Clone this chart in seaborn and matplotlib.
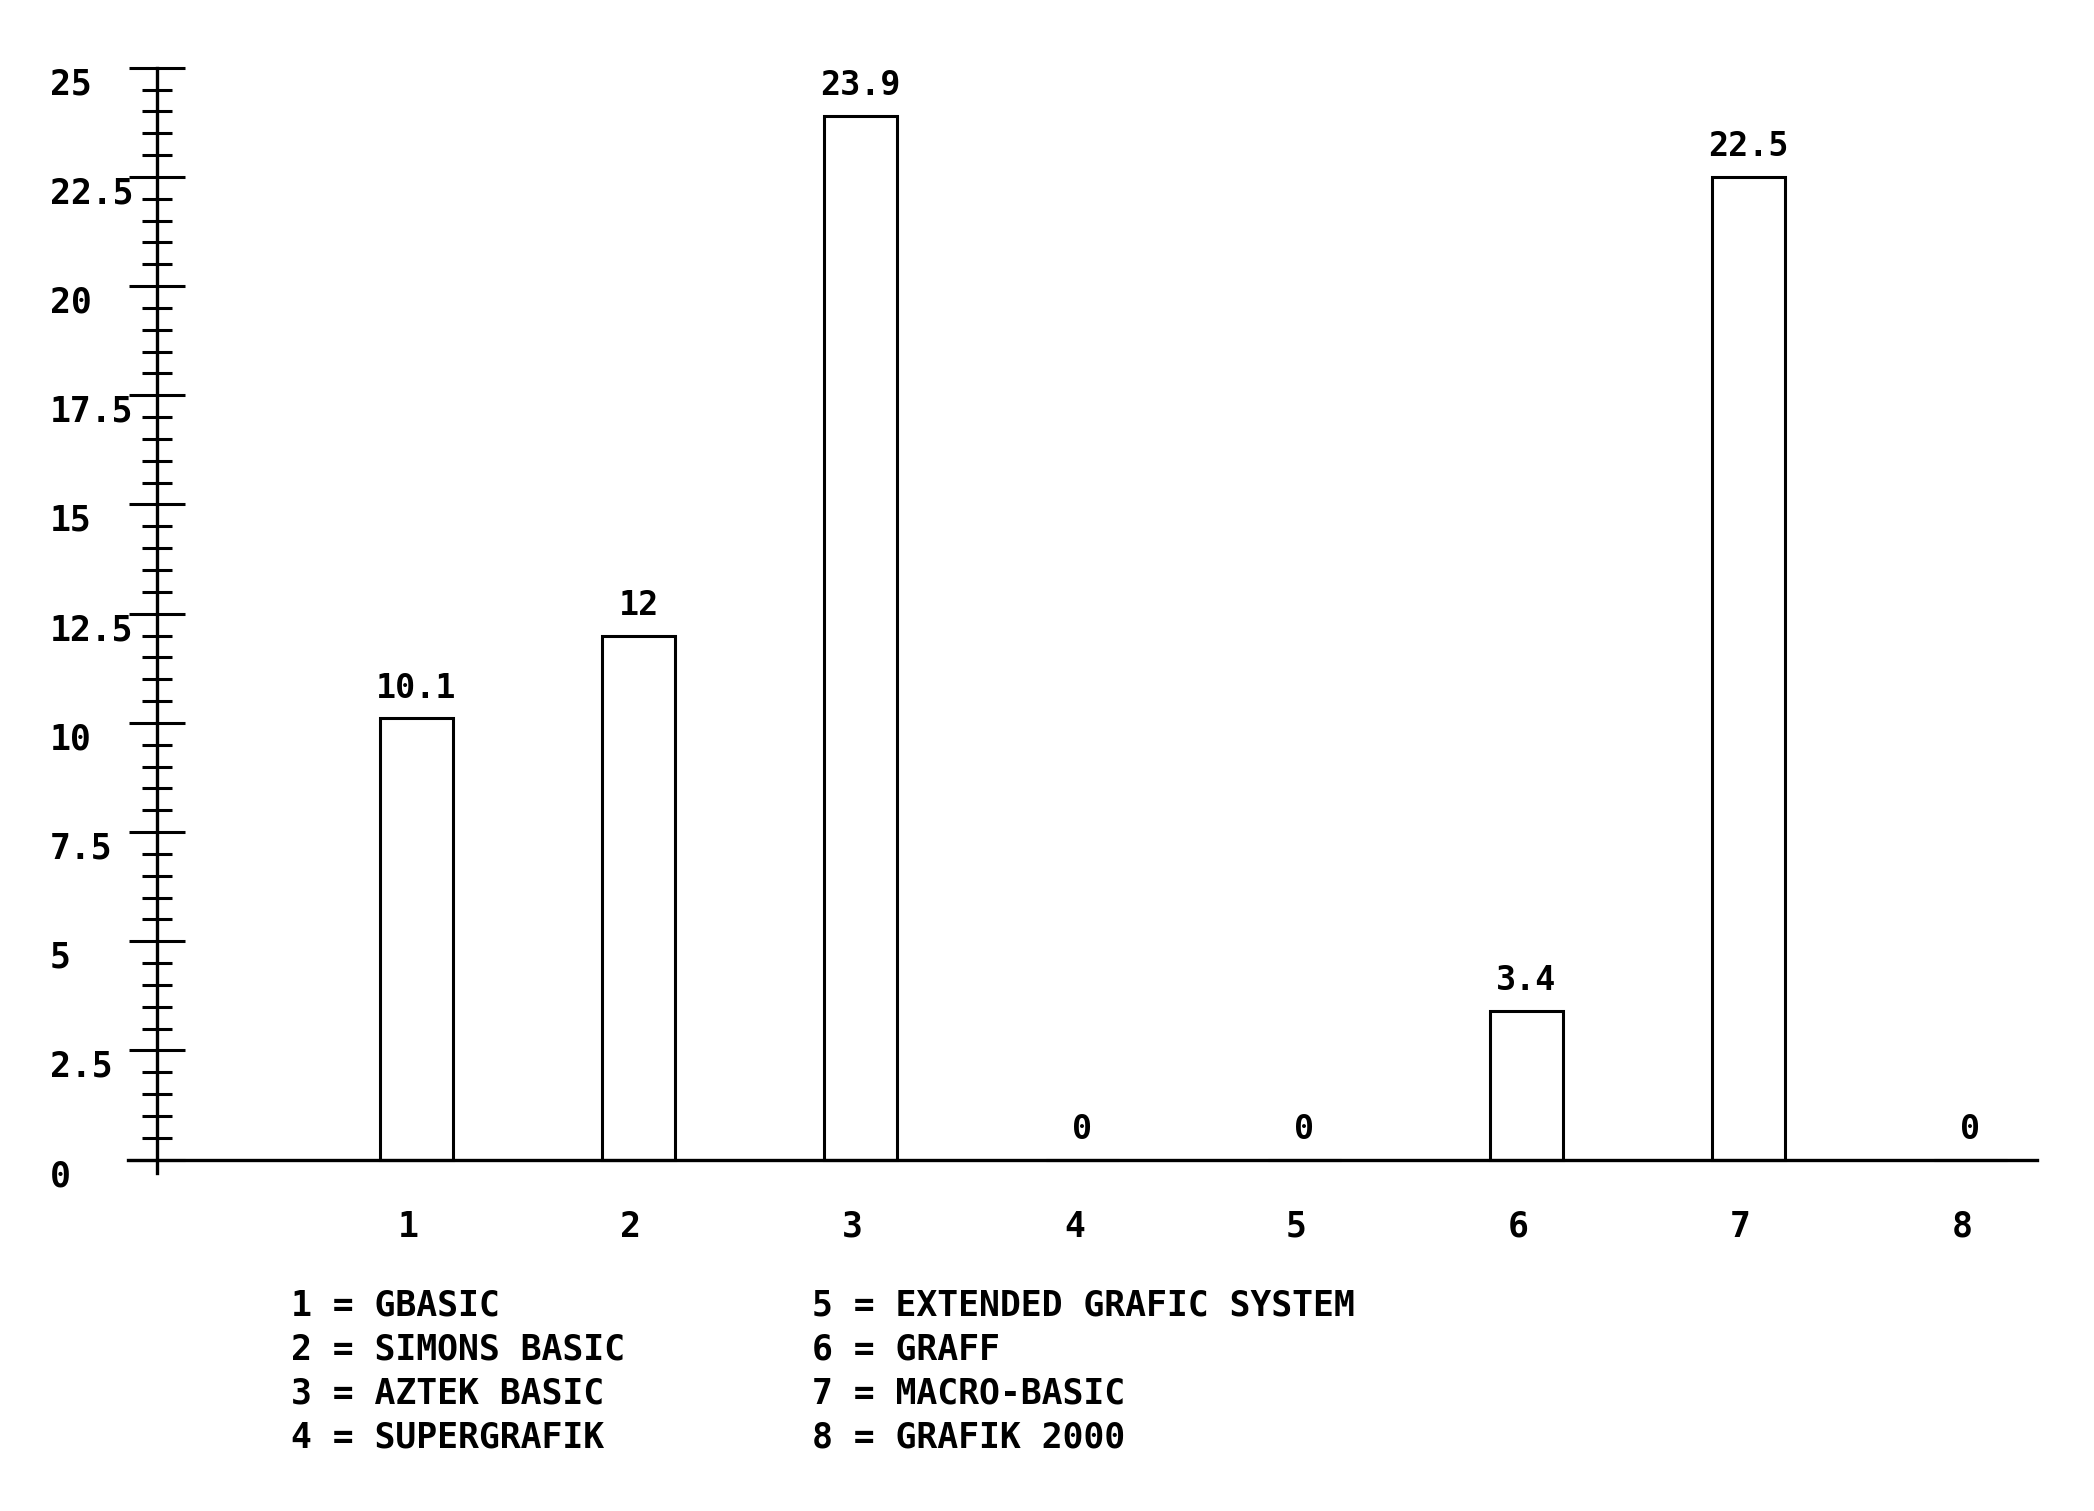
import matplotlib
matplotlib.use("Agg")
import matplotlib.pyplot as plt
import matplotlib.transforms as mtransforms
from matplotlib.ticker import MultipleLocator
import pandas as pd
import seaborn as sns

# data
categories = ["1", "2", "3", "4", "5", "6", "7", "8"]
values = [10.1, 12, 23.9, 0, 0, 3.4, 22.5, 0]
programs = ["GBASIC", "SIMONS BASIC", "AZTEK BASIC", "SUPERGRAFIK",
            "EXTENDED GRAFIC SYSTEM", "GRAFF", "MACRO-BASIC", "GRAFIK 2000"]
y_ticks = [0, 2.5, 5, 7.5, 10, 12.5, 15, 17.5, 20, 22.5, 25]

sns.set_style("white")
plt.rcParams['font.family'] = ['DejaVu Sans Mono', 'DejaVu Sans']
plt.rcParams['font.weight'] = 'bold'
plt.rcParams['text.color'] = 'black'

df = pd.DataFrame({"Nr": categories, "Wert": values})

fig = plt.figure(figsize=(20.94, 15.11), dpi=100)
ax = fig.add_axes([0.0611, 0.2224, 0.9117, 0.7386])

sns.barplot(data=df, x="Nr", y="Wert", ax=ax, fill=False, color="black",
            width=0.33, linewidth=2.2, errorbar=None)

ax.set_xlim(-1.30, 7.30)
ax.set_ylim(-0.35, 25.2)
ax.set_xlabel("")
ax.set_ylabel("")

# axis lines like the old plotter output
for side in ["top", "right"]:
    ax.spines[side].set_visible(False)
ax.spines["left"].set_position(("data", -1.17))
ax.spines["left"].set_bounds(-0.3, 25)
ax.spines["bottom"].set_position(("data", 0))
ax.spines["bottom"].set_bounds(-1.30, 7.30)
for side in ["left", "bottom"]:
    ax.spines[side].set_linewidth(2.4)
    ax.spines[side].set_color("black")

ax.set_yticks(y_ticks)
ax.set_yticklabels([f"{t:g}" for t in y_ticks])
ax.yaxis.set_minor_locator(MultipleLocator(0.5))
ax.tick_params(axis="y", which="both", left=True)
ax.tick_params(axis="y", which="major", direction="inout", length=40, width=2.2,
               pad=57, labelsize=25, colors="black")
ax.tick_params(axis="y", which="minor", direction="inout", length=21, width=2.2,
               colors="black")
shift = mtransforms.ScaledTranslation(0, -0.13, fig.dpi_scale_trans)
for lab in ax.get_yticklabels():
    lab.set_horizontalalignment("left")
    lab.set_transform(lab.get_transform() + shift)

ax.tick_params(axis="x", length=0, pad=36, labelsize=25, colors="black")
xshift = mtransforms.ScaledTranslation(-0.08, 0, fig.dpi_scale_trans)
for lab in ax.get_xticklabels():
    lab.set_transform(lab.get_transform() + xshift)

ax.bar_label(ax.containers[0], labels=[f"{v:g}" for v in values],
             padding=10, fontsize=24, fontweight="bold", color="black")

# key below the chart
for i, name in enumerate(programs):
    col, row = divmod(i, 4)
    fig.text(0.139 + col * 0.249, 1 - (1305 + row * 44) / 1511,
             f"{categories[i]} = {name}", fontsize=25, fontweight="bold",
             va="center", ha="left", color="black")

plt.savefig("out.png", dpi=100)
plt.close()
